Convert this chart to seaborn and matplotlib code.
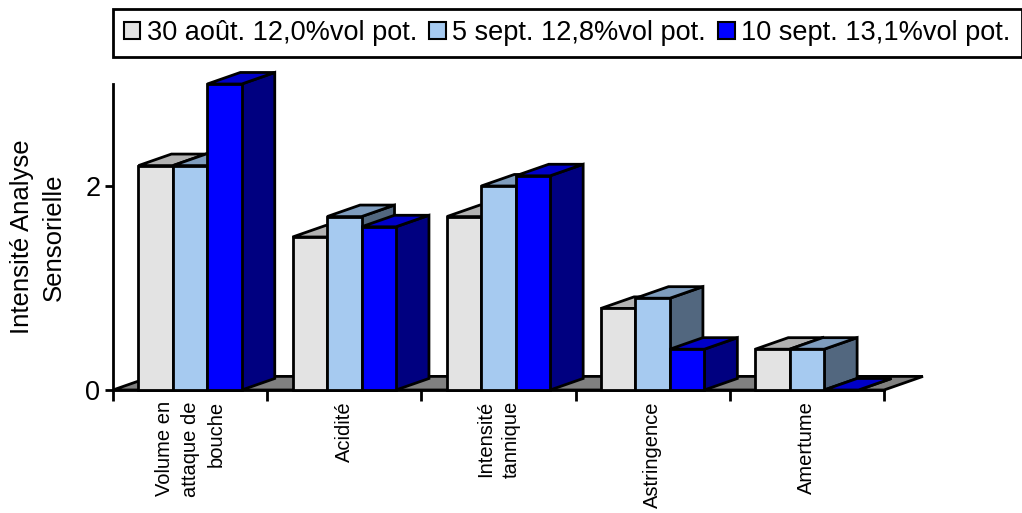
import numpy as np
import pandas as pd
import matplotlib
matplotlib.use("Agg")
import matplotlib.pyplot as plt
from matplotlib.patches import Polygon, Patch
import seaborn as sns

# ---------------- data ----------------
categories = ["Volume en\nattaque de\nbouche", "Acidité", "Intensité\ntannique",
              "Astringence", "Amertume"]
series_names = ["30 août. 12,0%vol pot.", "5 sept. 12,8%vol pot.", "10 sept. 13,1%vol pot."]
values_30aout = [2.2, 1.5, 1.7, 0.8, 0.4]
values_5sept = [2.2, 1.7, 2.0, 0.9, 0.4]
values_10sept = [3.0, 1.6, 2.1, 0.4, 0.0]
y_ticks = [0, 2]
y_label = "Intensité Analyse\nSensorielle"

# ---------------- style ----------------
front_colors = ["#E3E3E3", "#A6CAF0", "#0000FF"]
top_colors = ["#B2B2B2", "#7F9DBE", "#0000C8"]
side_colors = ["#8C8C8C", "#52677F", "#000080"]
floor_color = "#808080"
EDGE_LW = 2.0

sns.set_style("white")
plt.rcParams["font.family"] = ["Liberation Sans", "DejaVu Sans"]
plt.rcParams["text.color"] = "black"
plt.rcParams["axes.labelcolor"] = "black"
plt.rcParams["xtick.color"] = "black"
plt.rcParams["ytick.color"] = "black"

df = pd.DataFrame({
    "cat": np.tile(categories, 3),
    "serie": np.repeat(series_names, len(categories)),
    "val": values_30aout + values_5sept + values_10sept,
})

fig = plt.figure(figsize=(10.22, 5.13), dpi=100)
ax = fig.add_axes([113 / 1022, 1 - 390 / 513, 771 / 1022, 306 / 513])

sns.barplot(data=df, x="cat", y="val", hue="serie", order=categories,
            hue_order=series_names, palette=front_colors, saturation=1,
            width=0.67, edgecolor="black", linewidth=EDGE_LW,
            legend=False, errorbar=None, ax=ax)

ax.set_xlim(-0.5, len(categories) - 0.5)
ax.set_ylim(0, 3.0)

# depth of the pseudo-3D extrusion (in data units)
DX, DY = 0.214, 0.113
FLOOR_K = 1.18

# floor
x_lo, x_hi = ax.get_xlim()
floor = Polygon([(x_lo, 0), (x_hi, 0), (x_hi + DX * FLOOR_K, DY * FLOOR_K),
                 (x_lo + DX * FLOOR_K, DY * FLOOR_K)],
                closed=True, facecolor=floor_color, edgecolor="black",
                linewidth=EDGE_LW, zorder=1, clip_on=False)
ax.add_patch(floor)

bars = [p for p in ax.patches if p is not floor]
def series_index(p):
    fc = p.get_facecolor()
    for i, c in enumerate(front_colors):
        if np.allclose(matplotlib.colors.to_rgba(c), fc, atol=0.02):
            return i
    return 0

bars_sorted = sorted(bars, key=lambda p: p.get_x())
z = 2.0
for p in bars_sorted:
    si = series_index(p)
    x0 = p.get_x()
    x1 = x0 + p.get_width()
    h = p.get_height()
    side = Polygon([(x1, 0), (x1 + DX, DY), (x1 + DX, h + DY), (x1, h)],
                   closed=True, facecolor=side_colors[si], edgecolor="black",
                   linewidth=EDGE_LW, zorder=z, clip_on=False, joinstyle="miter")
    top = Polygon([(x0, h), (x1, h), (x1 + DX, h + DY), (x0 + DX, h + DY)],
                  closed=True, facecolor=top_colors[si], edgecolor="black",
                  linewidth=EDGE_LW, zorder=z + 0.01, clip_on=False, joinstyle="miter")
    ax.add_patch(side)
    ax.add_patch(top)
    p.set_zorder(z + 0.02)
    p.set_clip_on(False)
    p.set_joinstyle("miter")
    z += 0.05

# axes styling
for s in ["top", "right"]:
    ax.spines[s].set_visible(False)
for s in ["left", "bottom"]:
    ax.spines[s].set_linewidth(2)
    ax.spines[s].set_color("black")
    ax.spines[s].set_zorder(1.5)

ax.set_yticks(y_ticks)
ax.set_yticklabels([str(t) for t in y_ticks], fontsize=19.5)
ax.tick_params(axis="y", which="major", direction="out", length=6, width=2,
               pad=3, color="black", left=True)

ax.set_xticks(np.arange(x_lo, x_hi + 0.01, 1.0))
ax.set_xticklabels([])
ax.tick_params(axis="x", which="major", direction="out", length=8, width=2,
               color="black", bottom=True)
ax.set_xticks(np.arange(len(categories)), minor=True)
ax.set_xticklabels(categories, minor=True, rotation=90, fontsize=14.5,
                   va="top", ha="center", multialignment="right",
                   linespacing=1.45)
ax.tick_params(axis="x", which="minor", length=0, pad=8)

ax.set_xlabel("")
ax.set_ylabel(y_label, fontsize=18.5, labelpad=14, linespacing=1.4)

handles = [Patch(facecolor=c, edgecolor="black", linewidth=1.5) for c in front_colors]
leg = fig.legend(handles, series_names, loc="upper left",
                 bbox_to_anchor=(113 / 1022, 1 - 9 / 513), ncol=3,
                 frameon=True, fancybox=False, edgecolor="black", framealpha=1,
                 fontsize=19.5, handlelength=0.6, handleheight=0.6,
                 handletextpad=0.25, columnspacing=0.45, borderpad=0.4,
                 borderaxespad=0)
leg.get_frame().set_linewidth(2)
leg.get_frame().set_edgecolor("black")

fig.savefig("out.png", dpi=100)
